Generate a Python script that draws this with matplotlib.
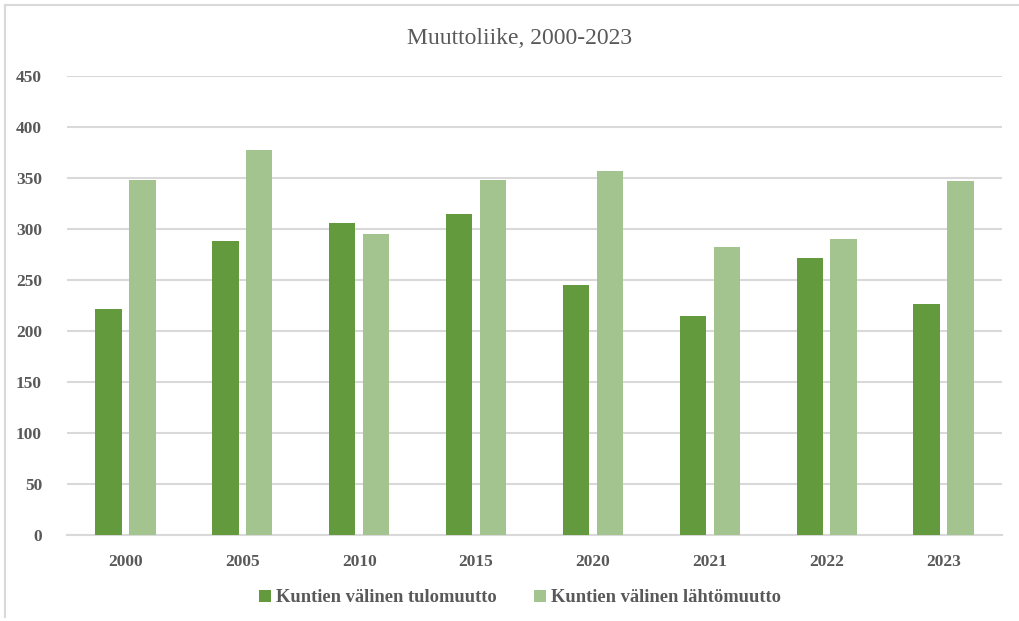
import matplotlib
matplotlib.use("Agg")
import matplotlib.pyplot as plt
import numpy as np
from matplotlib.lines import Line2D

categories = ["2000", "2005", "2010", "2015", "2020", "2021", "2022", "2023"]
tulomuutto = [222, 288, 306, 315, 245, 215, 272, 226]
lahtomuutto = [348, 377, 295, 348, 357, 282, 290, 347]
series_names = ["Kuntien välinen tulomuutto", "Kuntien välinen lähtömuutto"]
yticks = [0, 50, 100, 150, 200, 250, 300, 350, 400, 450]

c_dark = "#639A3D"
c_light = "#A3C48F"
txt = "#595959"

plt.rcParams['font.family'] = ['Liberation Serif', 'DejaVu Serif']

fig = plt.figure(figsize=(10.19, 6.21), dpi=100)
# chart frame (top and left edges visible)
fig.lines.append(Line2D([5/1019, 1.0], [1 - 5/621, 1 - 5/621], transform=fig.transFigure,
                        color="#D9D9D9", linewidth=1.5))
fig.lines.append(Line2D([5/1019, 5/1019], [1 - 5/621, 1 - 617/621], transform=fig.transFigure,
                        color="#D9D9D9", linewidth=1.5))
ax = fig.add_axes([67/1019, 1 - 535/621, (1002-67)/1019, (535-76)/621])

x = np.arange(len(categories))
w = 0.225
off = 0.145
ax.bar(x - off, tulomuutto, width=w, color=c_dark, label=series_names[0], zorder=3)
ax.bar(x + off, lahtomuutto, width=w, color=c_light, label=series_names[1], zorder=3)

ax.set_xlim(-0.5, len(categories) - 0.5)
ax.set_ylim(0, 450)
ax.set_yticks(yticks)
ax.set_xticks(x)
ax.set_xticklabels(categories)
ax.yaxis.grid(True, color="#D9D9D9", linewidth=1.5, zorder=0)
ax.set_axisbelow(True)
for s in ["top", "right", "left"]:
    ax.spines[s].set_visible(False)
ax.spines["bottom"].set_color("#D9D9D9")
ax.spines["bottom"].set_linewidth(1.5)
ax.tick_params(axis="both", length=0, labelsize=12.5, labelcolor=txt)
ax.tick_params(axis="x", pad=14)
ax.tick_params(axis="y", pad=18)
for lab in ax.get_xticklabels() + ax.get_yticklabels():
    lab.set_fontweight("bold")

fig.text(520/1019, 1 - 38/621, "Muuttoliike, 2000-2023", ha="center", va="center",
         fontsize=17, color=txt)

leg = fig.legend(loc="center", bbox_to_anchor=(520/1019, 1 - 598/621), ncol=2, frameon=False,
                 prop={"size": 13.3, "weight": "bold"}, handlelength=0.65, handleheight=0.65,
                 handletextpad=0.3, columnspacing=2.0)
for t in leg.get_texts():
    t.set_color(txt)

fig.savefig("out.png", dpi=100)
